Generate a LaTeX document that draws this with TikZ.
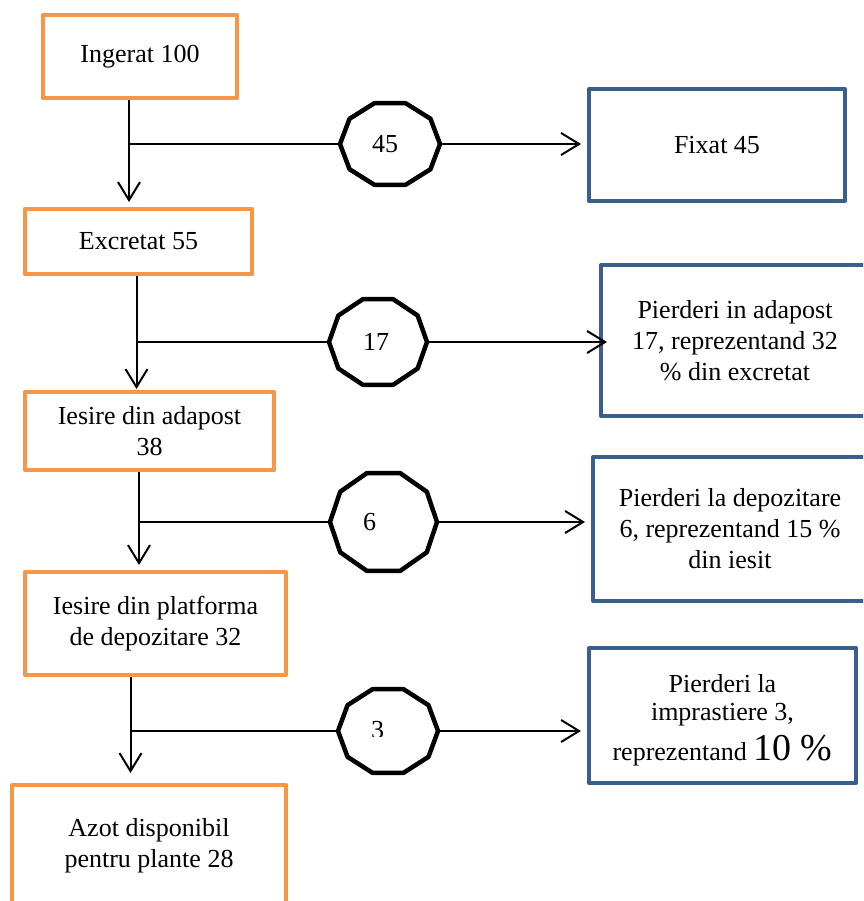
\documentclass[tikz,border=0pt]{standalone}
\usepackage{fontspec}
\setmainfont{Liberation Serif}
\usetikzlibrary{arrows.meta,shapes.geometric}
\definecolor{boxorange}{HTML}{F79646}
\definecolor{boxblue}{HTML}{3A5F8E}

\begin{document}
\begin{tikzpicture}[x=1pt,y=-1pt,
  every node/.style={font=\fontsize{26}{31}\selectfont, align=center, text=black},
  stage/.style 2 args={draw=boxorange, line width=4pt, line join=round,
    minimum width=#1, minimum height=#2, inner sep=0pt},
  loss/.style 2 args={draw=boxblue, line width=4pt, line join=round,
    minimum width=#1, minimum height=#2, inner sep=0pt},
  hub/.style 2 args={ellipse, minimum width=#1, minimum height=#2,
    inner sep=0pt, outer sep=0pt},
  deca/.style={line width=4.5pt, line join=round},
  link/.style={line width=2pt},
  flow/.style={line width=2pt, -{Straight Barb[length=18pt,width=22pt]}}]

\clip (0,0) rectangle (863,901);

% nitrogen balance stages
\node[stage={194pt}{83pt}]  (b1) at (140,56.5)  {Ingerat 100};
\node[stage={227pt}{65pt}]  (b2) at (138.5,241.5) {Excretat 55};
\node[stage={249pt}{78pt}]  (b3) at (149.5,431) {Iesire din adapost\\38};
\node[stage={261pt}{103pt}] (b4) at (155.5,623.5) {Iesire din platforma\\de depozitare 32};
\node[stage={274pt}{122pt}] (b5) at (149,846) {Azot disponibil\\pentru plante 28};

% losses
\node[loss={256pt}{112pt}] (f1) at (717,145) {Fixat 45};
\node[loss={268pt}{151pt}] (f2) at (735,340.5) {Pierderi in adapost\\17, reprezentand 32\\\% din excretat};
\node[loss={274pt}{144pt}] (f3) at (730,529) {Pierderi la depozitare\\6, reprezentand 15 \%\\din iesit};
\node[loss={267pt}{135pt}] (f4) at (722.5,715.5)
  {\rule{0pt}{27.5pt}Pierderi la\\[-3pt]imprastiere 3,\\[9pt]reprezentand {\fontsize{38}{40}\selectfont 10 \%}};

% branch points on the main flow
\coordinate (j1) at (129,144);
\coordinate (j2) at (136.5,342);
\coordinate (j3) at (139,522);
\coordinate (j4) at (130.5,731);

% decagons carrying the lost quantities
\node[hub={100pt}{86pt}]  (d1) at (390,144) {};
\node[hub={98pt}{90pt}]   (d2) at (378,342) {};
\node[hub={107pt}{103pt}] (d3) at (383.5,522) {};
\node[hub={100pt}{88pt}]  (d4) at (388,731) {};
\foreach \n/\rx/\ry in {d1/50/43, d2/49/45, d3/53.5/51.5, d4/50/44}
  \draw[deca] ([shift={({\rx},0)}]\n.center)
    \foreach \a in {36,72,...,324} { -- ([shift={({\rx*cos(\a)},{\ry*sin(\a)})}]\n.center) } -- cycle;

\node (v1) at ([xshift=-5pt]d1.center) {45};
\node (v2) at ([xshift=-2pt]d2.center) {17};
\node (v3) at ([xshift=-14pt]d3.center) {6};
\begin{scope}
  \clip (340,700) rectangle (440,736);
  \node[anchor=base] (v4) at (377.5,738) {3};
\end{scope}

% main flow
\draw[flow, shorten >=5pt]  (j1 |- b1.south) -- (j1 |- b2.north);
\draw[flow, shorten >=1pt]  (j2 |- b2.south) -- (j2 |- b3.north);
\draw[flow, shorten >=5pt]  (j3 |- b3.south) -- (j3 |- b4.north);
\draw[flow, shorten >=10pt] (j4 |- b4.south) -- (j4 |- b5.north);

% branches to the losses
\draw[link] (j1) -- (d1.west);
\draw[link] (j2) -- (d2.west);
\draw[link] (j3) -- (d3.west);
\draw[link] (j4) -- (d4.west);
\draw[flow, shorten >=6pt]  (d1.east) -- (d1.east -| f1.west);
\draw[flow, shorten >=-8pt] (d2.east) -- (d2.east -| f2.west);
\draw[flow, shorten >=6pt]  (d3.east) -- (d3.east -| f3.west);
\draw[flow, shorten >=6pt]  (d4.east) -- (d4.east -| f4.west);
\end{tikzpicture}
\end{document}
